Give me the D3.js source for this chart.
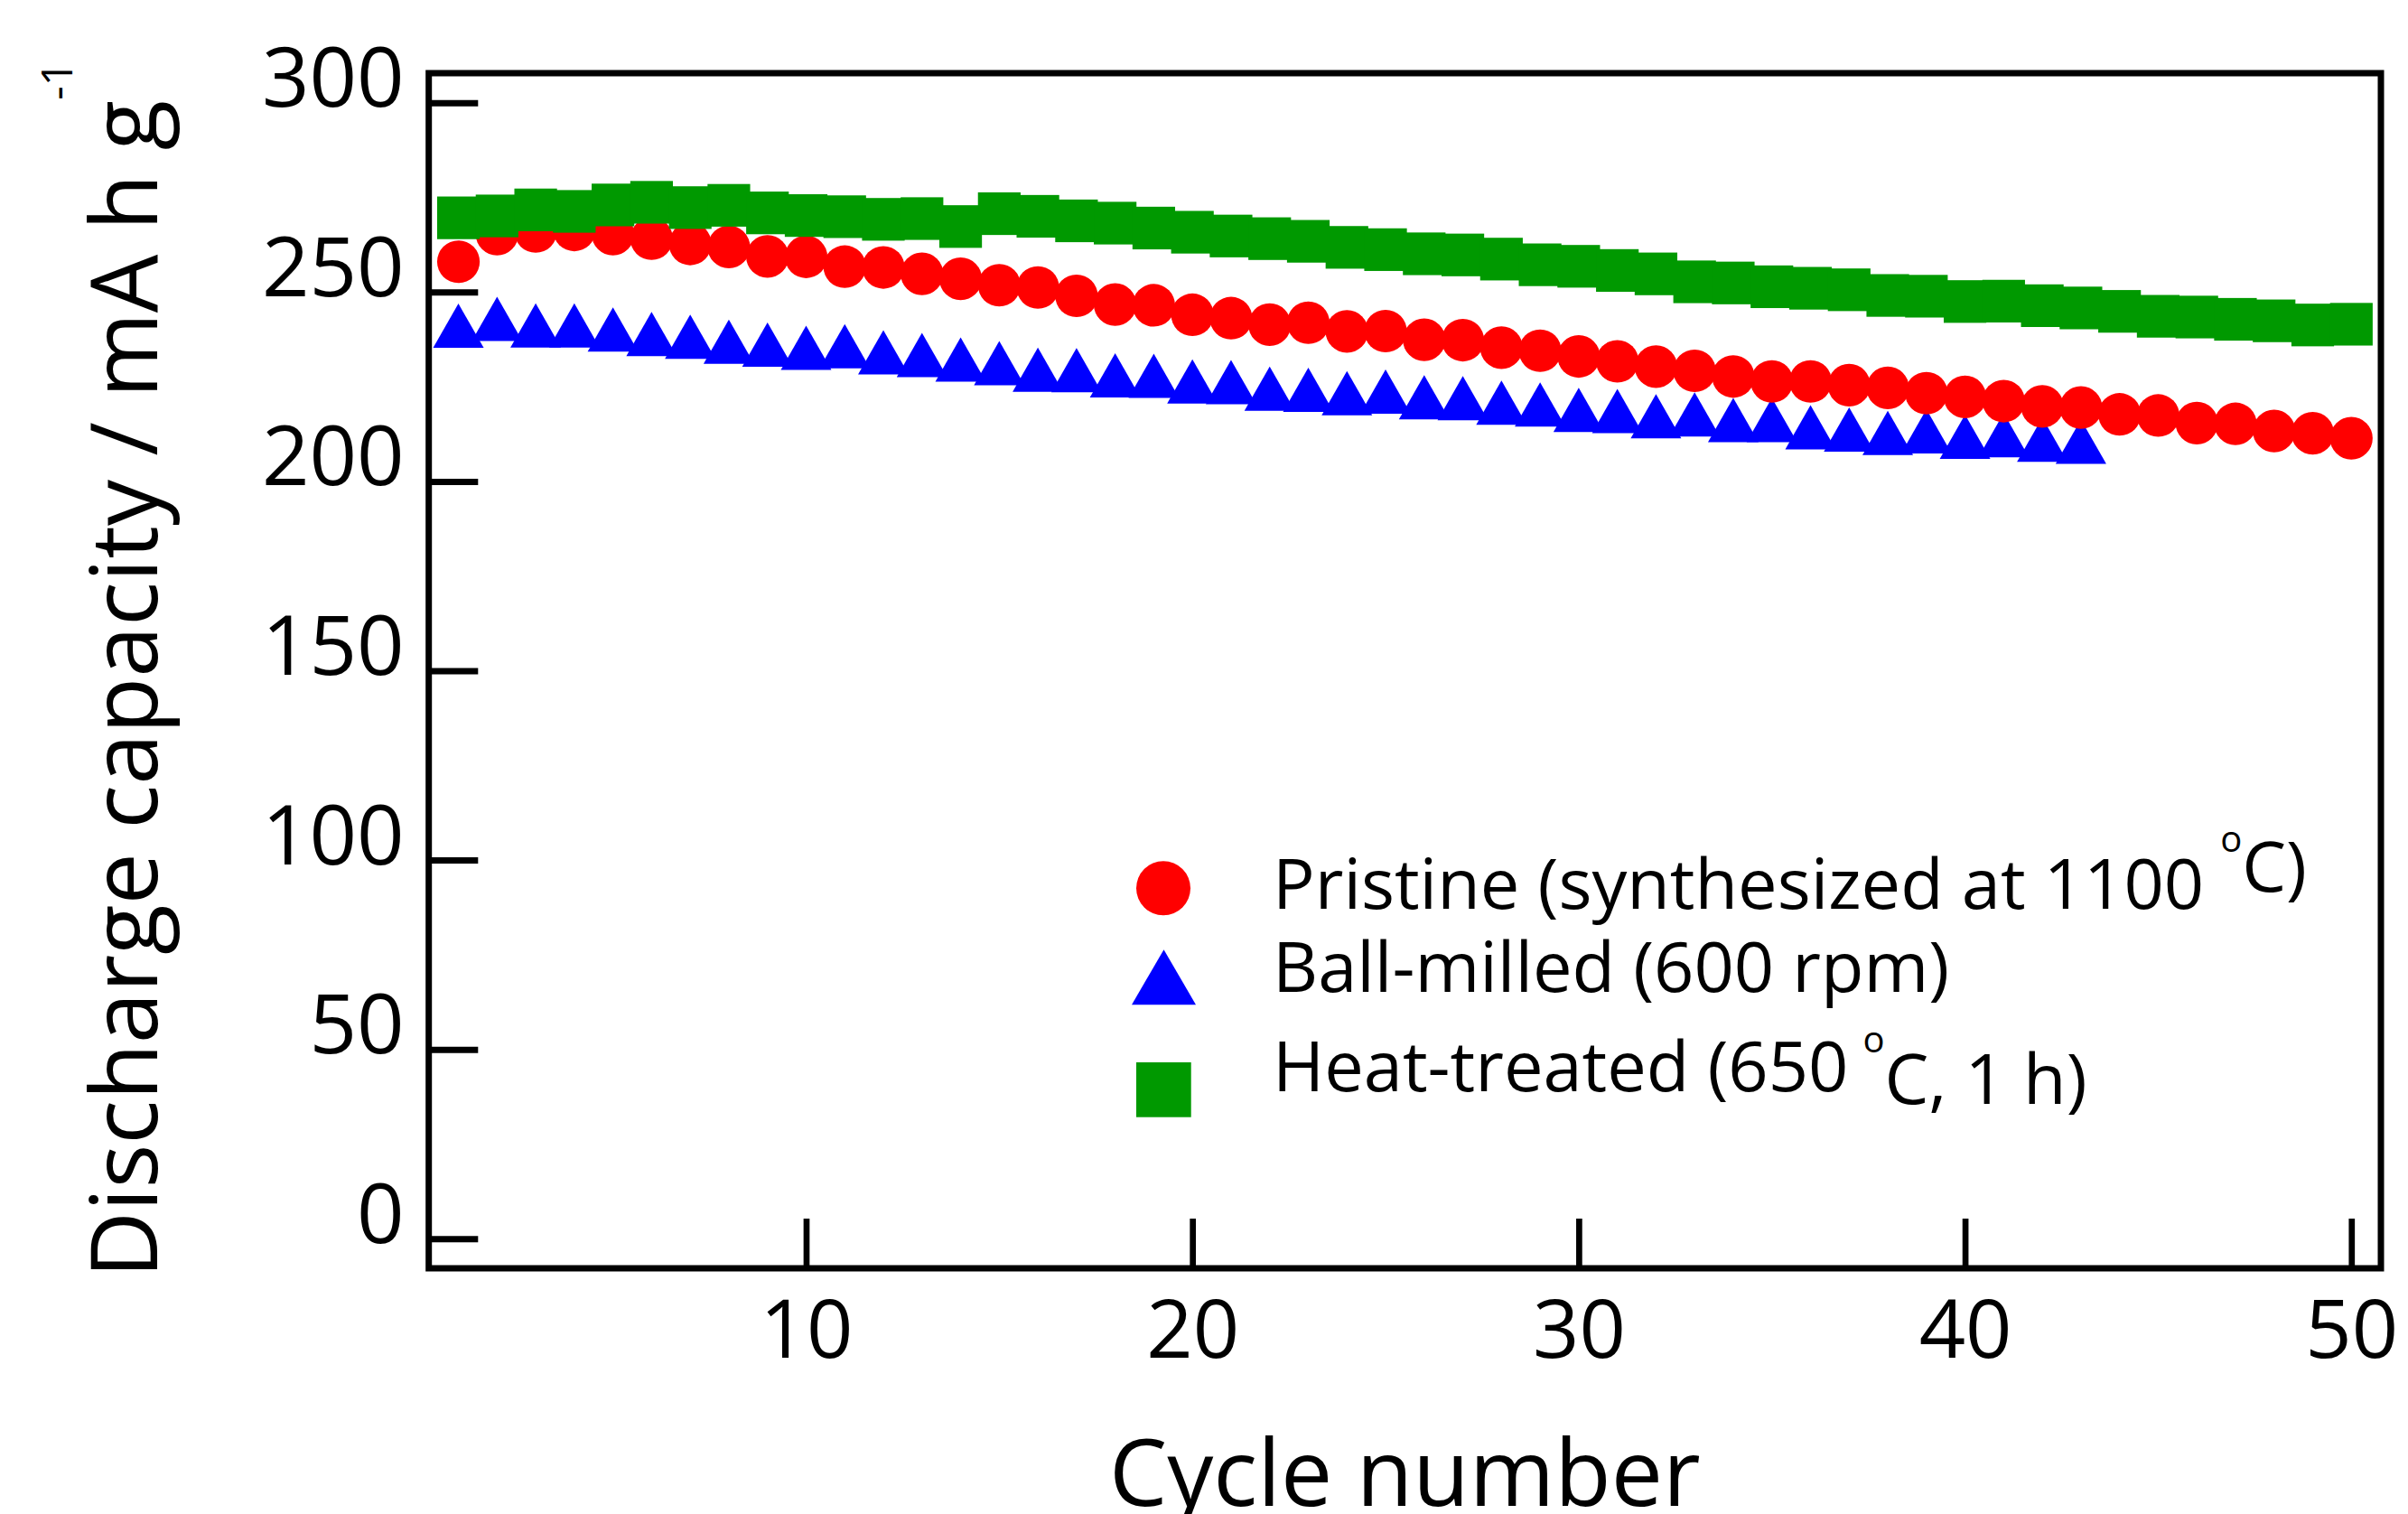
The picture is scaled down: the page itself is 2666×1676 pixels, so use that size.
<!DOCTYPE html>
<html>
<head>
<meta charset="utf-8">
<script src="https://cdn.jsdelivr.net/npm/d3@7"></script>
<style>
  html, body { margin: 0; padding: 0; background: #fff; }
  svg { display: block; }
  text { font-family: "Open Sans", "Noto Sans", sans-serif; fill: #000; }
</style>
</head>
<body>
<div id="chart"></div>
<script>
const cycles = [1, 2, 3, 4, 5, 6, 7, 8, 9, 10, 11, 12, 13, 14, 15, 16, 17, 18, 19, 20,
    21, 22, 23, 24, 25, 26, 27, 28, 29, 30, 31, 32, 33, 34, 35, 36, 37, 38, 39, 40,
    41, 42, 43, 44, 45, 46, 47, 48, 49, 50];

const pristine = [258.0, 265.3, 266.0, 266.4, 265.3, 264.1, 262.7, 261.9, 259.4, 259.3,
    256.7, 256.5, 254.8, 253.5, 251.8, 251.2, 249.0, 246.7, 246.5, 244.0,
    243.1, 241.4, 241.9, 239.6, 239.7, 237.4, 237.3, 235.3, 234.5, 233.0,
    231.7, 230.3, 229.2, 227.7, 226.4, 226.4, 225.4, 224.7, 223.3, 222.3,
    221.2, 219.8, 219.5, 217.7, 217.4, 215.4, 215.2, 213.3, 212.7, 211.4];

const ballMilled = [241.1, 242.9, 241.2, 241.2, 240.1, 238.9, 238.2, 236.9, 236.1, 235.3,
    235.7, 234.1, 233.4, 232.2, 231.2, 229.5, 229.4, 228.0, 227.9, 226.4,
    226.2, 224.5, 224.2, 223.3, 223.7, 222.2, 222.0, 220.8, 220.3, 218.9,
    218.6, 217.2, 217.7, 216.2, 216.2, 214.3, 213.7, 212.8, 213.2, 211.8,
    212.2, 211.0, 210.5];

const heatTreated = [269.6, 270.1, 271.7, 271.3, 273.0, 273.7, 272.3, 272.9, 270.9, 270.2,
    269.9, 269.2, 269.4, 267.3, 270.7, 270.0, 268.8, 268.2, 266.9, 265.8,
    264.8, 264.1, 263.4, 261.8, 261.2, 260.1, 259.8, 258.7, 257.2, 256.8,
    255.7, 254.8, 252.7, 252.4, 251.4, 251.0, 250.6, 249.1, 248.9, 247.5,
    247.6, 246.4, 245.8, 244.9, 243.6, 243.4, 242.8, 242.4, 241.3, 241.5];

const xTicks = [10, 20, 30, 40, 50];
const yTicks = [0, 50, 100, 150, 200, 250, 300];

const width = 2666, height = 1676;
const plot = {left: 474.7, right: 2636, top: 81, bottom: 1404};

const x = d3.scaleLinear().domain([0.232, 50.765]).range([plot.left, plot.right]);
const y = d3.scaleLinear().domain([-7.8, 307.8]).range([plot.bottom, plot.top]);

const svg = d3.select("#chart").append("svg")
    .attr("width", width)
    .attr("height", height);

// triangle centred on its bounding box
function triPath(w, h) {
    return `M0,${-h / 2}L${w / 2},${h / 2}L${-w / 2},${h / 2}Z`;
}

// markers: blue under red under green
svg.append("g").selectAll("path")
    .data(ballMilled)
    .enter()
    .append("path")
    .attr("d", triPath(56, 49))
    .attr("transform", (d, i) => `translate(${x(cycles[i])},${y(d)})`)
    .style("fill", "#0000ff");

svg.append("g").selectAll("circle")
    .data(pristine)
    .enter()
    .append("circle")
    .attr("cx", (d, i) => x(cycles[i]))
    .attr("cy", d => y(d))
    .attr("r", 23.6)
    .style("fill", "#ff0000");

svg.append("g").selectAll("rect")
    .data(heatTreated)
    .enter()
    .append("rect")
    .attr("x", (d, i) => x(cycles[i]) - 23.6)
    .attr("y", d => y(d) - 23.6)
    .attr("width", 47.2)
    .attr("height", 47.2)
    .style("fill", "#009900");

// axes with inward ticks
const yAxis = d3.axisLeft(y).tickValues(yTicks).tickSize(-54.6).tickPadding(27);
svg.append("g")
    .attr("transform", `translate(${plot.left},0)`)
    .call(yAxis)
    .call(g => g.select(".domain").remove())
    .attr("font-size", 92)
    .attr("font-family", null)
    .call(g => g.selectAll(".tick line").attr("stroke-width", 7))
    .call(g => g.selectAll(".tick text").attr("dy", null).attr("y", 4));

const xAxis = d3.axisBottom(x).tickValues(xTicks).tickSize(-55).tickPadding(99);
svg.append("g")
    .attr("transform", `translate(0,${plot.bottom})`)
    .call(xAxis)
    .call(g => g.select(".domain").remove())
    .attr("font-size", 90)
    .attr("font-family", null)
    .call(g => g.selectAll(".tick line").attr("stroke-width", 6.7))
    .call(g => g.selectAll(".tick text").attr("dy", null));

// frame
svg.append("rect")
    .attr("x", plot.left)
    .attr("y", plot.top)
    .attr("width", plot.right - plot.left)
    .attr("height", plot.bottom - plot.top)
    .style("fill", "none")
    .style("stroke", "#000")
    .style("stroke-width", 7);

// axis titles
svg.append("text")
    .attr("x", (plot.left + plot.right) / 2)
    .attr("y", 1667)
    .attr("text-anchor", "middle")
    .attr("font-size", 102)
    .text("Cycle number");

const yTitle = svg.append("text")
    .attr("transform", "translate(174,1415) rotate(-90)")
    .attr("font-size", 102)
    .text("Discharge capacity / mA h g");
yTitle.append("tspan")
    .attr("dy", -94)
    .attr("font-size", 48)
    .text("-1");

// legend
const legend = svg.append("g");
legend.append("circle")
    .attr("cx", 1288).attr("cy", 983.3).attr("r", 30)
    .style("fill", "#ff0000");
legend.append("path")
    .attr("d", triPath(71, 61))
    .attr("transform", "translate(1288.5,1081.7)")
    .style("fill", "#0000ff");
legend.append("rect")
    .attr("x", 1258).attr("y", 1176).attr("width", 60.7).attr("height", 60.7)
    .style("fill", "#009900");

const t1 = legend.append("text").attr("x", 1409).attr("y", 1006).attr("font-size", 77.6)
    .text("Pristine (synthesized at 1100");
t1.append("tspan").attr("dx", 18).attr("dy", -63).attr("font-size", 40).text("o");
t1.append("tspan").attr("dy", 43.7).text("C)");

legend.append("text").attr("x", 1409).attr("y", 1098.3).attr("font-size", 77.6)
    .text("Ball-milled (600 rpm)");

const t3 = legend.append("text").attr("x", 1409).attr("y", 1208.3).attr("font-size", 77.6)
    .text("Heat-treated (650");
t3.append("tspan").attr("dx", 16).attr("dy", -43).attr("font-size", 40).text("o");
t3.append("tspan").attr("dy", 56.7).text("C, 1 h)");
</script>
</body>
</html>
